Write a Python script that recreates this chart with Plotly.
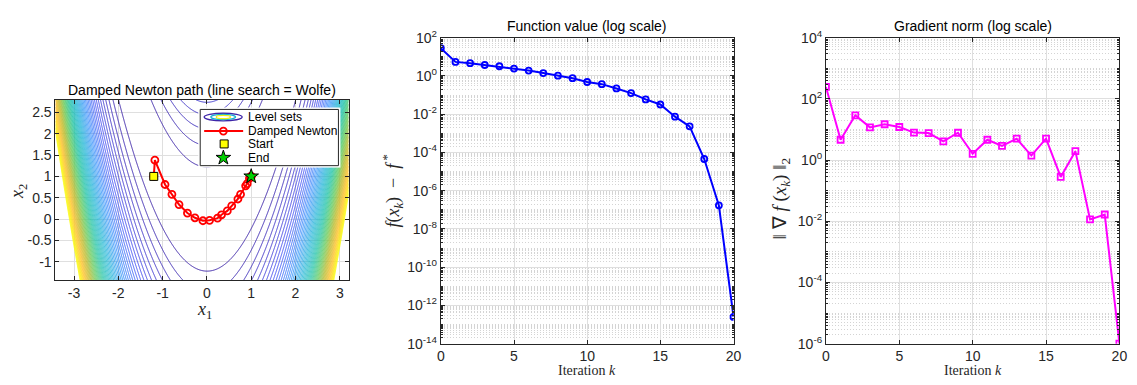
import numpy as np
import plotly.graph_objects as go

W, H = 1137, 385

# ---------------- data ----------------
# Damped Newton iterates on the Rosenbrock function
path_x1 = [-1.20, -1.175, -0.946, -0.79, -0.63, -0.44, -0.27, -0.09, 0.06, 0.24, 0.33,
           0.46, 0.56, 0.70, 0.76, 0.875, 0.91, 0.96, 0.985, 0.998, 1.0]
path_x2 = [1.00, 1.381, 0.81, 0.58, 0.34, 0.14, 0.03, -0.04, -0.03, 0.02, 0.10,
           0.19, 0.31, 0.47, 0.58, 0.78, 0.83, 0.955, 0.99, 0.998, 1.0]
start_pt = [-1.2, 1.0]
end_pt = [1.0, 1.0]

iters = list(range(21))
f_gap = [28, 5.4, 4.6, 3.7, 3.2, 2.4, 1.9, 1.4, 1.03, 0.76, 0.48, 0.37, 0.22, 0.126,
         0.059, 0.032, 0.0074, 0.0023, 4.5e-5, 1.7e-7, 2.5e-13]
grad_norm = [245, 4.6, 29, 11.7, 14.8, 12, 7.9, 7.6, 4.1, 7.8, 1.6, 4.6, 2.9, 5.0,
             1.4, 5.0, 0.28, 1.95, 0.0115, 0.0166, 1e-6]

left_xticks = [-3, -2, -1, 0, 1, 2, 3]
left_yticks = [-1, -0.5, 0, 0.5, 1, 1.5, 2, 2.5]
iter_ticks = [0, 5, 10, 15, 20]
f_exps = list(range(-14, 3, 2))
g_exps = list(range(-6, 5, 2))

# level sets of the Rosenbrock objective
gx = np.linspace(-3.42, 3.2, 440)
gy = np.linspace(-1.43, 2.8, 320)
GX, GY = np.meshgrid(gx, gy)
GZ = (1 - GX) ** 2 + 100 * (GY - GX ** 2) ** 2
level_start, level_end, level_step = 150, 9300, 150

parula = [
    [0.00, "rgb(62,38,168)"], [0.125, "rgb(71,82,243)"], [0.25, "rgb(45,140,250)"],
    [0.375, "rgb(21,177,212)"], [0.50, "rgb(30,194,165)"], [0.625, "rgb(100,204,100)"],
    [0.75, "rgb(190,190,55)"], [0.875, "rgb(254,196,58)"], [1.00, "rgb(249,251,21)"],
]

# ---------------- helpers ----------------
def px_x(p):
    return p / W

def px_y(p):
    return 1 - p / H

AX = "#262626"
SANS = "Liberation Sans, Arial, sans-serif"
SERIF = "Liberation Serif, Times New Roman, serif"
GRID = "#DFDFDF"
MINOR = "#D4D4D4"

fig = go.Figure()

# left panel
fig.add_trace(go.Contour(
    x=gx, y=gy, z=GZ, xaxis="x", yaxis="y",
    contours=dict(coloring="lines", start=level_start, end=level_end, size=level_step),
    colorscale=parula, zmin=0, zmax=level_end, showscale=False,
    line=dict(width=1), hoverinfo="skip", showlegend=False,
))
fig.add_trace(go.Scatter(
    x=path_x1, y=path_x2, xaxis="x", yaxis="y", mode="lines+markers",
    line=dict(color="#FF0000", width=2),
    marker=dict(symbol="circle-open", size=7, color="#FF0000", line=dict(width=1.8)),
    showlegend=False,
))
fig.add_trace(go.Scatter(
    x=[start_pt[0]], y=[start_pt[1]], xaxis="x", yaxis="y", mode="markers",
    marker=dict(symbol="square", size=8, color="#FFFF00", line=dict(color="black", width=1)),
    showlegend=False,
))
fig.add_trace(go.Scatter(
    x=[end_pt[0]], y=[end_pt[1]], xaxis="x", yaxis="y", mode="markers",
    marker=dict(symbol="star", size=11, color="#00D000", line=dict(color="black", width=1)),
    showlegend=False,
))

# middle panel
fig.add_trace(go.Scatter(
    x=iters, y=f_gap, xaxis="x2", yaxis="y2", mode="lines+markers",
    line=dict(color="#0000FF", width=2),
    marker=dict(symbol="circle-open", size=6, color="#0000FF", line=dict(width=1.8)),
    showlegend=False,
))
# right panel
fig.add_trace(go.Scatter(
    x=iters, y=grad_norm, xaxis="x3", yaxis="y3", mode="lines+markers",
    line=dict(color="#FF00FF", width=2),
    marker=dict(symbol="square-open", size=6, color="#FF00FF", line=dict(width=1.8)),
    showlegend=False,
))

# ---------------- manual legend (pixel-coordinate overlay axis) ----------------
LX0, LX1, LY0, LY1 = 198.3, 338.0, 104.3, 163.3
fig.add_trace(go.Scatter(
    x=[LX0, LX1, LX1, LX0, LX0], y=[LY0, LY0, LY1, LY1, LY0], xaxis="x4", yaxis="y4",
    mode="lines", fill="toself", fillcolor="white", line=dict(color=AX, width=1),
    hoverinfo="skip", showlegend=False,
))
fig.add_trace(go.Scatter(
    x=[202.3, 221.7, 241.7], y=[127, 127, 127], xaxis="x4", yaxis="y4",
    mode="lines", line=dict(color="#FF0000", width=2), showlegend=False, hoverinfo="skip",
))
fig.add_trace(go.Scatter(
    x=[221.7], y=[127], xaxis="x4", yaxis="y4", mode="markers",
    marker=dict(symbol="circle-open", size=7, color="#FF0000", line=dict(width=1.8)),
    showlegend=False, hoverinfo="skip",
))
fig.add_trace(go.Scatter(
    x=[222.5], y=[140.5], xaxis="x4", yaxis="y4", mode="markers",
    marker=dict(symbol="square", size=8, color="#FFFF00", line=dict(color="black", width=1)),
    showlegend=False, hoverinfo="skip",
))
fig.add_trace(go.Scatter(
    x=[221.7], y=[155], xaxis="x4", yaxis="y4", mode="markers",
    marker=dict(symbol="star", size=11, color="#00D000", line=dict(color="black", width=1)),
    showlegend=False, hoverinfo="skip",
))

shapes = []
for (x0, x1, y0, y1, c) in [(202.3, 240.7, 108.3, 116.3, "rgb(62,38,168)"),
                             (209.0, 234.0, 109.5, 115.1, "rgb(21,177,212)"),
                             (214.5, 228.8, 110.6, 114.0, "rgb(240,240,20)")]:
    shapes.append(dict(type="circle", xref="x4", yref="y4", x0=x0, x1=x1, y0=y0, y1=y1,
                       line=dict(color=c, width=1.3), layer="above"))

annotations = []
for txt, yy in [("Level sets", 112.3), ("Damped Newton", 127), ("Start", 141), ("End", 155.5)]:
    annotations.append(dict(text=txt, xref="x4", yref="y4", x=245, y=yy, xanchor="left",
                            yanchor="middle", showarrow=False,
                            font=dict(family=SANS, size=12, color="black")))

# titles
for txt, cx, cy in [("Damped Newton path (line search = Wolfe)", 200, 83.5),
                    ("Function value (log scale)", 589.4, 17),
                    ("Gradient norm (log scale)", 979, 17)]:
    annotations.append(dict(text=txt, xref="paper", yref="paper", x=px_x(cx), y=px_y(cy),
                            xanchor="center", yanchor="middle", showarrow=False,
                            font=dict(family=SANS, size=14, color="black")))

# axis labels
lab_font = dict(family=SERIF, size=14, color=AX)
math_font = dict(family=SERIF, size=18, color=AX)
annotations += [
    dict(text="<i>x</i><sub>1</sub>", xref="paper", yref="paper", x=px_x(203), y=px_y(315),
         xanchor="center", yanchor="middle", showarrow=False, font=math_font),
    dict(text="<i>x</i><sub>2</sub>", xref="paper", yref="paper", x=px_x(14), y=px_y(190),
         xanchor="center", yanchor="middle", showarrow=False, font=math_font, textangle=-90),
    dict(text="Iteration <i>k</i>", xref="paper", yref="paper", x=px_x(589), y=px_y(378),
         xanchor="center", yanchor="middle", showarrow=False, font=lab_font),
    dict(text="Iteration <i>k</i>", xref="paper", yref="paper", x=px_x(979), y=px_y(378),
         xanchor="center", yanchor="middle", showarrow=False, font=lab_font),
    dict(text="<i>f</i>(<i>x</i><sub><i>k</i></sub>)  −  <i>f</i><sup> *</sup>", xref="paper",
         yref="paper", x=px_x(393), y=px_y(189.5), xanchor="center", yanchor="middle",
         showarrow=False, font=math_font, textangle=-90),
    dict(text="‖ ∇ <i>f</i> (<i>x</i><sub><i>k</i></sub>) ‖<sub>2</sub>", xref="paper",
         yref="paper", x=px_x(785), y=px_y(198), xanchor="center", yanchor="middle",
         showarrow=False, font=dict(family=SERIF, size=19, color=AX), textangle=-90),
]

tick_font = dict(family=SANS, size=14, color=AX)
common = dict(showline=True, linecolor=AX, linewidth=1, mirror="ticks", ticks="inside",
              ticklen=4, tickcolor=AX, tickwidth=1, zeroline=False, showgrid=True,
              gridcolor=GRID, gridwidth=1, tickfont=tick_font, fixedrange=True)

log_minor = dict(dtick="D1", ticks="inside", ticklen=2, tickcolor=AX, showgrid=True,
                 gridcolor=MINOR, griddash="1px,2px", gridwidth=1)

fig.update_layout(
    width=W, height=H, margin=dict(l=0, r=0, t=0, b=0),
    paper_bgcolor="white", plot_bgcolor="white", showlegend=False,
    xaxis=dict(domain=[px_x(52), px_x(348.3)], range=[-3.42, 3.2], tickvals=left_xticks,
               ticktext=[str(v) for v in left_xticks], anchor="y", **common),
    yaxis=dict(domain=[px_y(283.3), px_y(94)], range=[-1.43, 2.8], tickvals=left_yticks,
               ticktext=[("%g" % v) for v in left_yticks], anchor="x", **common),
    xaxis2=dict(domain=[px_x(441.5), px_x(737.3)], range=[0, 20], tickvals=iter_ticks,
                anchor="y2", **common),
    yaxis2=dict(domain=[px_y(350), px_y(29)], type="log", range=[-14, 2],
                tickvals=[10.0 ** e for e in f_exps],
                ticktext=["10<sup>%d</sup>" % e for e in f_exps], anchor="x2",
                minor=log_minor, **common),
    xaxis3=dict(domain=[px_x(830.7), px_x(1127.3)], range=[0, 20], tickvals=iter_ticks,
                anchor="y3", **common),
    yaxis3=dict(domain=[px_y(350), px_y(29)], type="log", range=[-6, 4],
                tickvals=[10.0 ** e for e in g_exps],
                ticktext=["10<sup>%d</sup>" % e for e in g_exps], anchor="x3",
                minor=log_minor, **common),
    xaxis4=dict(domain=[px_x(LX0 - 2), px_x(LX1 + 2)], range=[LX0 - 2, LX1 + 2], visible=False,
                anchor="y4", fixedrange=True),
    yaxis4=dict(domain=[px_y(LY1 + 2), px_y(LY0 - 2)], range=[LY1 + 2, LY0 - 2], visible=False,
                anchor="x4", fixedrange=True),
    shapes=shapes, annotations=annotations,
)

fig.write_html("out.html")
